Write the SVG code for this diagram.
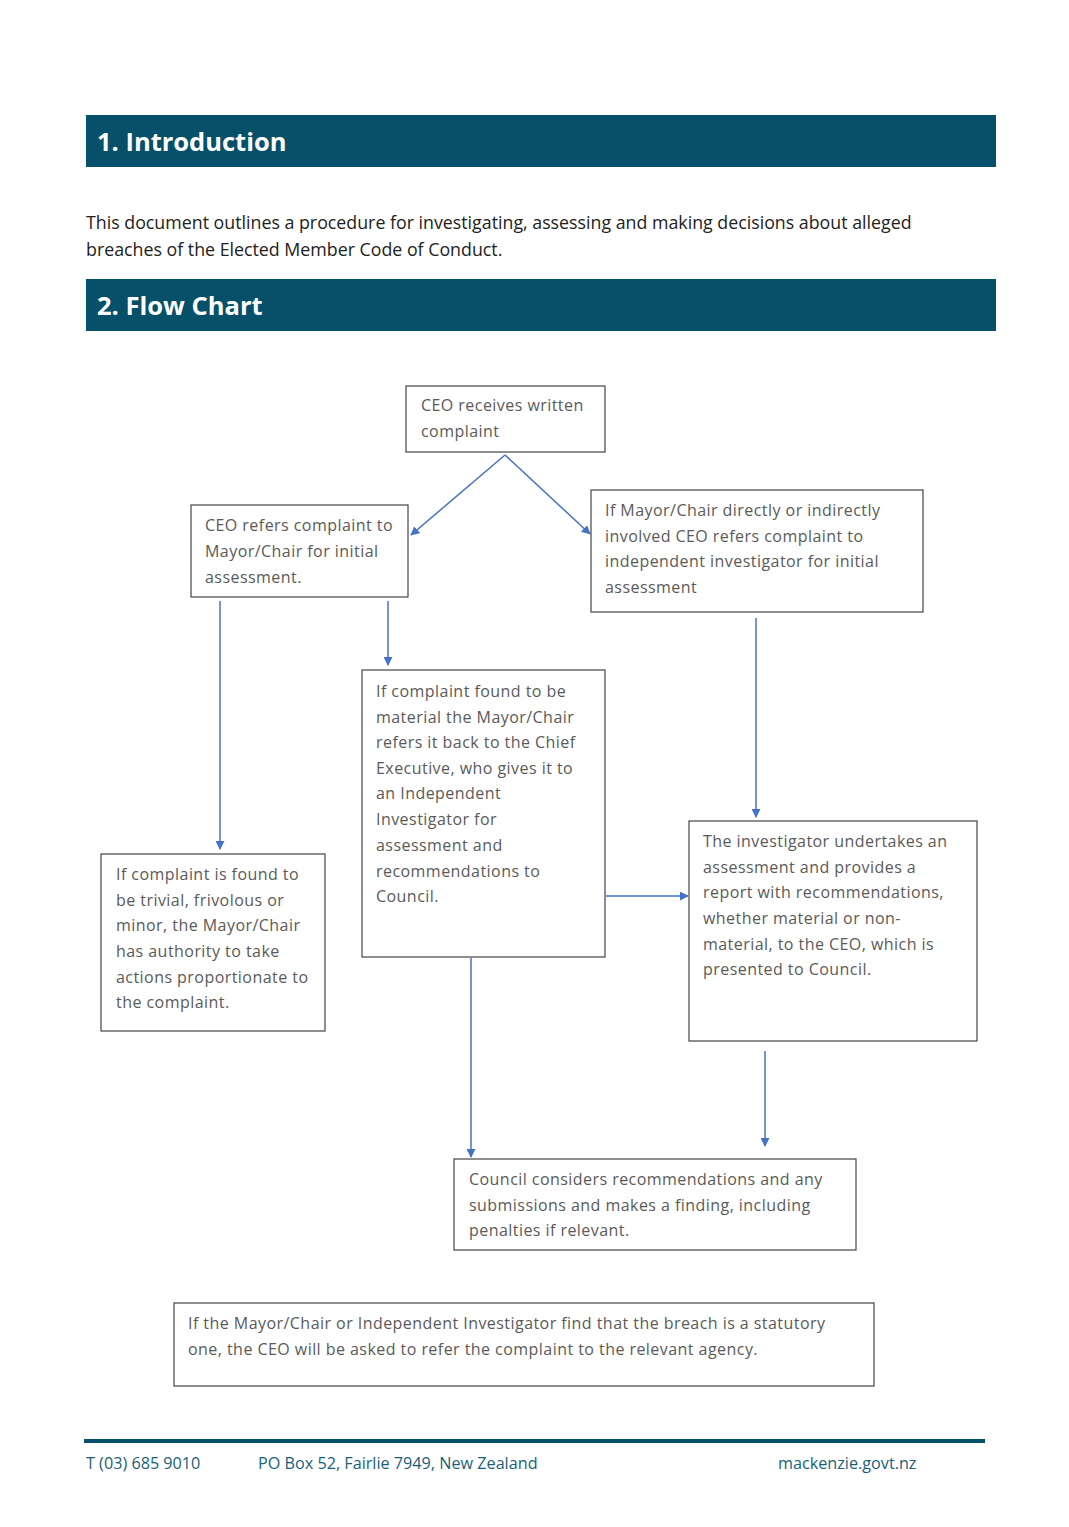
<svg xmlns="http://www.w3.org/2000/svg" width="1069" height="1527" viewBox="0 0 1069 1527">
<defs>
<marker id="ah" viewBox="0 0 10 10" refX="9" refY="5" markerWidth="9" markerHeight="9" markerUnits="userSpaceOnUse" orient="auto">
<path d="M0,0 L10,5 L0,10 z" fill="#4472C4"/>
</marker>
<style>
.hdr{fill:#06506A}
.ht{font-family:"Open Sans","Liberation Sans",sans-serif;font-weight:bold;font-size:25.5px;fill:#fff}
.p{font-family:"Open Sans","Liberation Sans",sans-serif;font-size:17.8px;fill:#222}
.box{fill:#fff;stroke:#444;stroke-width:1.2}
.bt{font-family:"Open Sans","Noto Sans",sans-serif;font-size:16px;letter-spacing:0.45px;fill:#5a5a5a}
.c{stroke:#4472C4;stroke-width:1.5;fill:none;marker-end:url(#ah)}
.ft{font-family:"Open Sans","Liberation Sans",sans-serif;font-size:16.2px;fill:#1A5F7A}
</style>
</defs>
<rect width="1069" height="1527" fill="#fff"/>
<g id="header1">
<rect class="hdr" x="86" y="115" width="910" height="52"/>
<text class="ht" x="97" y="151">1. Introduction</text>
</g>
<g id="intro">
<text class="p" x="86" y="229">This document outlines a procedure for investigating, assessing and making decisions about alleged</text>
<text class="p" x="86" y="256">breaches of the Elected Member Code of Conduct.</text>
</g>
<g id="header2">
<rect class="hdr" x="86" y="279" width="910" height="52"/>
<text class="ht" x="97" y="315">2. Flow Chart</text>
</g>
<g id="connectors">
<line class="c" x1="505" y1="455" x2="411" y2="535"/>
<line class="c" x1="505" y1="455" x2="590" y2="534"/>
<line class="c" x1="220" y1="601" x2="220" y2="849"/>
<line class="c" x1="388" y1="601" x2="388" y2="665"/>
<line class="c" x1="756" y1="618" x2="756" y2="817"/>
<line class="c" x1="606" y1="896" x2="688" y2="896"/>
<line class="c" x1="471" y1="958" x2="471" y2="1157"/>
<line class="c" x1="765" y1="1051" x2="765" y2="1146"/>
</g>
<g id="n1">
<rect class="box" x="406" y="386" width="199" height="66"/>
<text class="bt" x="421" y="411">CEO receives written</text>
<text class="bt" x="421" y="437">complaint</text>
</g>
<g id="n2">
<rect class="box" x="191" y="505" width="217" height="92"/>
<text class="bt" x="205" y="531">CEO refers complaint to</text>
<text class="bt" x="205" y="557">Mayor/Chair for initial</text>
<text class="bt" x="205" y="583">assessment.</text>
</g>
<g id="n3">
<rect class="box" x="591" y="490" width="332" height="122"/>
<text class="bt" x="605" y="516">If Mayor/Chair directly or indirectly</text>
<text class="bt" x="605" y="542">involved CEO refers complaint to</text>
<text class="bt" x="605" y="567">independent investigator for initial</text>
<text class="bt" x="605" y="593">assessment</text>
</g>
<g id="n4">
<rect class="box" x="362" y="670" width="243" height="287"/>
<text class="bt" x="376" y="697">If complaint found to be</text>
<text class="bt" x="376" y="723">material the Mayor/Chair</text>
<text class="bt" x="376" y="748">refers it back to the Chief</text>
<text class="bt" x="376" y="774">Executive, who gives it to</text>
<text class="bt" x="376" y="799">an Independent</text>
<text class="bt" x="376" y="825">Investigator for</text>
<text class="bt" x="376" y="851">assessment and</text>
<text class="bt" x="376" y="877">recommendations to</text>
<text class="bt" x="376" y="902">Council.</text>
</g>
<g id="n5">
<rect class="box" x="101" y="854" width="224" height="177"/>
<text class="bt" x="116" y="880">If complaint is found to</text>
<text class="bt" x="116" y="906">be trivial, frivolous or</text>
<text class="bt" x="116" y="931">minor, the Mayor/Chair</text>
<text class="bt" x="116" y="957">has authority to take</text>
<text class="bt" x="116" y="983">actions proportionate to</text>
<text class="bt" x="116" y="1008">the complaint.</text>
</g>
<g id="n6">
<rect class="box" x="689" y="821" width="288" height="220"/>
<text class="bt" x="703" y="847">The investigator undertakes an</text>
<text class="bt" x="703" y="873">assessment and provides a</text>
<text class="bt" x="703" y="898">report with recommendations,</text>
<text class="bt" x="703" y="924">whether material or non-</text>
<text class="bt" x="703" y="950">material, to the CEO, which is</text>
<text class="bt" x="703" y="975">presented to Council.</text>
</g>
<g id="n7">
<rect class="box" x="454" y="1159" width="402" height="91"/>
<text class="bt" x="469" y="1185">Council considers recommendations and any</text>
<text class="bt" x="469" y="1211">submissions and makes a finding, including</text>
<text class="bt" x="469" y="1236">penalties if relevant.</text>
</g>
<g id="n8">
<rect class="box" x="174" y="1303" width="700" height="83"/>
<text class="bt" x="188" y="1329">If the Mayor/Chair or Independent Investigator find that the breach is a statutory</text>
<text class="bt" x="188" y="1355">one, the CEO will be asked to refer the complaint to the relevant agency.</text>
</g>
<g id="footer">
<line x1="84" y1="1441" x2="985" y2="1441" stroke="#06506A" stroke-width="4"/>
<text class="ft" x="86" y="1469">T (03) 685 9010</text>
<text class="ft" x="258" y="1469">PO Box 52, Fairlie 7949, New Zealand</text>
<text class="ft" x="778" y="1469">mackenzie.govt.nz</text>
</g>
</svg>
